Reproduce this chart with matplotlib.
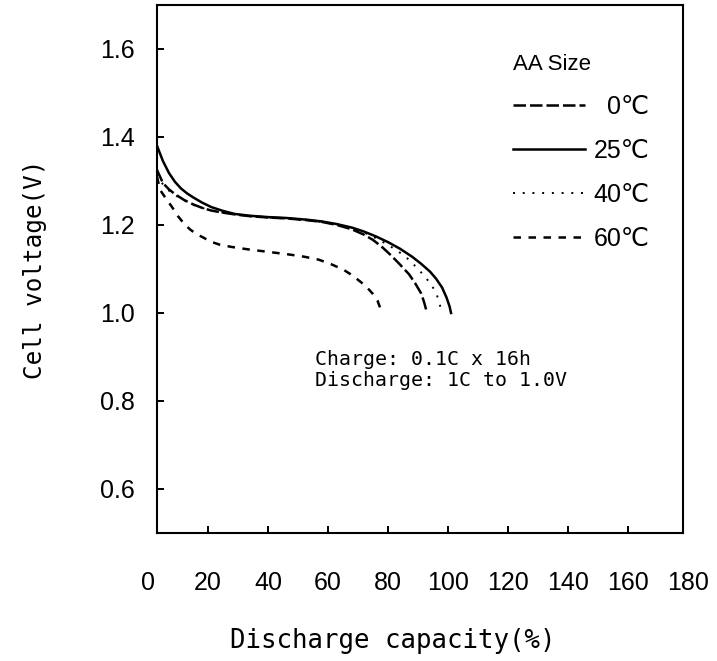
import numpy as np
import matplotlib.pyplot as plt

plt.rcParams["font.family"] = ["Liberation Sans", "DejaVu Sans"]
plt.rcParams["axes.linewidth"] = 1.5

# discharge capacity (%) / cell voltage (V)
cap_0 = [3, 5, 7, 9, 12, 15, 18, 21, 25, 29, 34, 40, 46, 53, 58, 63, 68,
         72, 75, 78, 81, 84, 87, 89, 91, 92, 93]
v_0 = [1.325, 1.295, 1.281, 1.270, 1.257, 1.247, 1.239, 1.233, 1.228,
       1.224, 1.220, 1.217, 1.215, 1.211, 1.207, 1.200, 1.190, 1.178, 1.166,
       1.150, 1.131, 1.110, 1.088, 1.068, 1.045, 1.025, 1.0]

cap_25 = [3, 5, 7, 9, 11, 13, 15, 18, 21, 25, 29, 34, 40, 46, 53, 58, 63,
          68, 72, 76, 80, 84, 88, 91, 94, 96, 98, 99.5, 100.5, 101]
v_25 = [1.38, 1.345, 1.318, 1.298, 1.283, 1.272, 1.263, 1.251, 1.241,
        1.232, 1.225, 1.221, 1.218, 1.216, 1.212, 1.208, 1.202, 1.194, 1.185,
        1.174, 1.161, 1.146, 1.128, 1.112, 1.094, 1.078, 1.058, 1.035, 1.015, 1.0]

cap_40 = [3, 5, 7, 9, 12, 15, 18, 21, 25, 29, 34, 40, 46, 53, 58, 63, 68,
          72, 76, 80, 84, 87, 90, 92, 94, 96, 97, 98]
v_40 = [1.315, 1.292, 1.278, 1.268, 1.256, 1.246, 1.239, 1.233, 1.228,
        1.224, 1.220, 1.217, 1.215, 1.211, 1.207, 1.201, 1.193, 1.183, 1.170,
        1.155, 1.137, 1.121, 1.100, 1.085, 1.068, 1.047, 1.025, 1.0]

cap_60 = [3, 4, 6, 8, 10, 12, 14, 16, 18, 21, 24, 28, 34, 40, 47, 52,
          57, 61, 65, 68, 71, 73, 75, 76.5, 78]
v_60 = [1.31, 1.28, 1.26, 1.241, 1.22, 1.203, 1.19, 1.18, 1.173, 1.162,
        1.155, 1.15, 1.144, 1.139, 1.133, 1.128, 1.121, 1.111, 1.099, 1.086,
        1.07, 1.058, 1.043, 1.028, 1.0]

x_ticks = np.arange(0, 181, 20)
y_ticks = [0.6, 0.8, 1.0, 1.2, 1.4, 1.6]

W, H = 717, 661
fig = plt.figure(figsize=(W / 100, H / 100), dpi=100)

# frame of the plot (x runs 3 .. 178.3 %, 3 px per %)
x0, x1 = 3, 178.3
left, right, top, bottom = 157, 683, 5, 533
ax = fig.add_axes([left / W, 1 - bottom / H, (right - left) / W, (bottom - top) / H])

# helper axes over 0 .. 180 % carrying the x tick labels (0 and 180 sit outside the frame)
px = (right - left) / (x1 - x0)
lab_l = left - x0 * px
lab = fig.add_axes([lab_l / W, 1 - bottom / H, 180 * px / W, (bottom - top) / H], zorder=-1)
lab.set_xlim(0, 180)
lab.set_xticks(x_ticks)
lab.tick_params(axis='x', length=0, pad=27, labelsize=18)
lab.set_yticks([])
lab.patch.set_visible(False)
for s in lab.spines.values():
    s.set_visible(False)

ax.plot(cap_0, v_0, color='black', lw=1.8, ls=(0, (5, 1.6)), label='  0℃')
ax.plot(cap_25, v_25, color='black', lw=1.8, ls='-', label='25℃')
ax.plot(cap_40, v_40, color='black', lw=1.4, ls=(0, (1, 4)), label='40℃')
ax.plot(cap_60, v_60, color='black', lw=1.8, ls=(0, (3, 3)), label='60℃')

ax.set_xlim(x0, x1)
ax.set_ylim(0.5, 1.7)
ax.set_xticks(x_ticks[1:-1])
ax.set_xticklabels([])
ax.set_yticks(y_ticks)
ax.set_yticklabels([f'{v:.1f}' for v in y_ticks])
ax.tick_params(direction='in', length=5, width=1.4, labelsize=18)
ax.tick_params(axis='y', pad=16)

ax.set_xlabel('Discharge capacity(%)', family='DejaVu Sans Mono', fontsize=18.5)
ax.xaxis.set_label_coords(0.449, -0.18)
ax.set_ylabel('Cell voltage(V)', family='DejaVu Sans Mono', fontsize=17.5)
ax.yaxis.set_label_coords(-0.209, 0.5)

ax.text(55.7, 0.871, 'Charge: 0.1C x 16h\nDischarge: 1C to 1.0V',
        family='DejaVu Sans Mono', fontsize=14.3, linespacing=1.1, va='center')

leg = ax.legend(title='AA Size', frameon=False, loc='upper right',
                bbox_to_anchor=(0.979, 0.95), fontsize=18, title_fontsize=16,
                handlelength=2.85, labelspacing=0.8, handletextpad=0.35)
leg._legend_box.align = 'left'

fig.savefig('out.png', dpi=100)
